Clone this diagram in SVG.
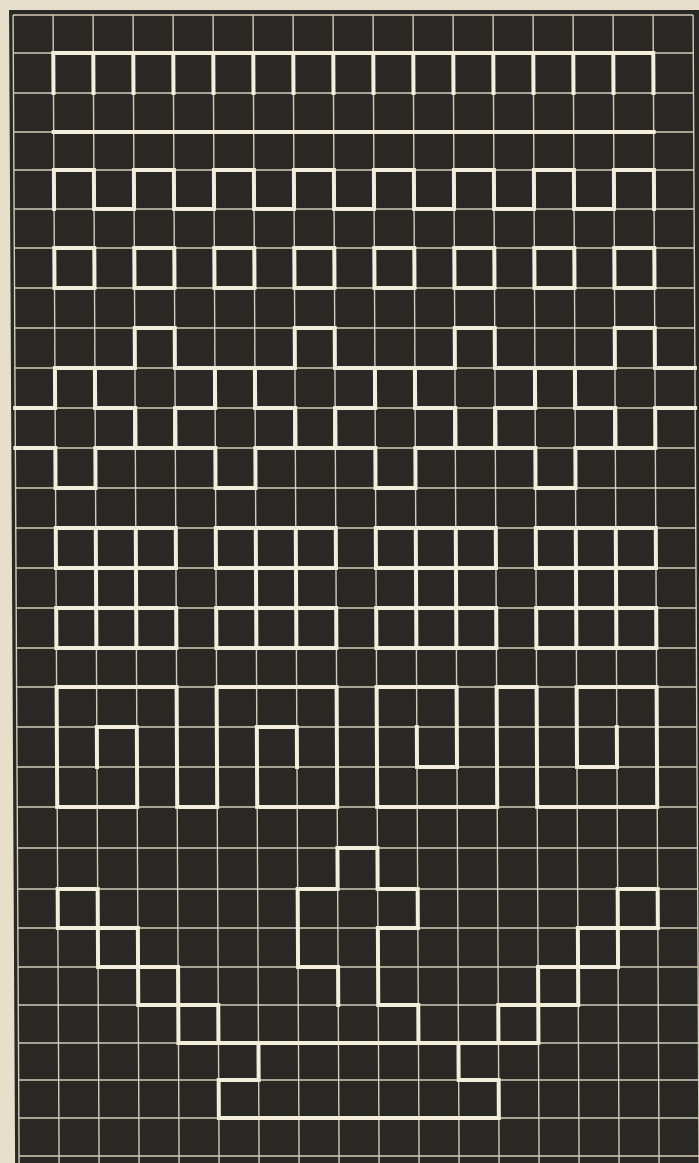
<svg xmlns="http://www.w3.org/2000/svg" width="699" height="1163" viewBox="0 0 699 1163">
<style>
.thin{fill:none;stroke:#d3ccb8;stroke-width:1.4}
.thick{fill:none;stroke:#f3eddb;stroke-width:4;stroke-linecap:square;stroke-linejoin:miter}
</style>
<rect width="699" height="1163" fill="#e8dfca"/>
<g transform="skewX(0.3)">
<rect x="9" y="10" width="700" height="1160" fill="#2a2825"/>
<g id="grid" class="thin">
<path d="M13 15V1163M53 15V1163M93 15V1163M133 15V1163M173 15V1163M213 15V1163M253 15V1163M293 15V1163M333 15V1163M373 15V1163M413 15V1163M453 15V1163M493 15V1163M533 15V1163M573 15V1163M613 15V1163M653 15V1163M693 15V1163"/>
<path d="M13 15H693M13 53H693M13 93H693M13 132H693M13 170H693M13 209H693M13 248H693M13 288H693M13 328H693M13 368H693M13 408H693M13 448H693M13 488H693M13 528H693M13 568H693M13 608H693M13 648H693M13 687H693M13 727H693M13 767H693M13 807H693M13 848H693M13 889H693M13 928H693M13 967H693M13 1005H693M13 1043H693M13 1080H693M13 1118H693M13 1156H693"/>
</g>
<g id="band-comb" class="thick">
<path d="M53 53H653M53 53V93M93 53V93M133 53V93M173 53V93M213 53V93M253 53V93M293 53V93M333 53V93M373 53V93M413 53V93M453 53V93M493 53V93M533 53V93M573 53V93M613 53V93M653 53V93"/>
</g>
<g id="band-line" class="thick"><path d="M53 132H653"/></g>
<g id="band-meander" class="thick">
<path d="M53 209V170H93V209H133V170H173V209H213V170H253V209H293V170H333V209H373V170H413V209H453V170H493V209H533V170H573V209H613V170H653V209"/>
</g>
<g id="band-boxes" class="thick">
<path d="M53 248h40v40h-40zM133 248h40v40h-40zM213 248h40v40h-40zM293 248h40v40h-40zM373 248h40v40h-40zM453 248h40v40h-40zM533 248h40v40h-40zM613 248h40v40h-40z"/>
</g>
<g id="band-crosses" class="thick">
<path d="M133 328H173V368H213V408H173V448H133V408H93V368H133Z"/>
<path d="M293 328H333V368H373V408H333V448H293V408H253V368H293Z"/>
<path d="M453 328H493V368H533V408H493V448H453V408H413V368H453Z"/>
<path d="M693 368H653V328H613V368H573V408H613V448H653V408H693"/>
<path d="M13 408H53V368H93V408H133V448H93V488H53V448H13"/>
<path d="M213 368H253V408H293V448H253V488H213V448H173V408H213Z"/>
<path d="M373 368H413V408H453V448H413V488H373V448H333V408H373Z"/>
<path d="M533 368H573V408H613V448H573V488H533V448H493V408H533Z"/>
</g>
<g id="band-triplets" class="thick">
<path d="M53 528H173V568H53ZM53 608H173V648H53ZM93 528V648M133 528V648"/>
<path d="M213 528H333V568H213ZM213 608H333V648H213ZM253 528V648M293 528V648"/>
<path d="M373 528H493V568H373ZM373 608H493V648H373ZM413 528V648M453 528V648"/>
<path d="M533 528H653V568H533ZM533 608H653V648H533ZM573 528V648M613 528V648"/>
</g>
<g id="band-spirals" class="thick">
<path d="M93 767V727H133V807H53V687H173V807H213V687H333V807H253V727H293V767"/>
<path d="M413 727V767H453V687H373V807H493V687H533V807H653V687H573V767H613V727"/>
</g>
<g id="band-stairs" class="thick">
<path d="M53 889h40v39h-40zM93 928h40v39h-40zM133 967h40v38h-40zM173 1005h40v38h-40z"/>
<path d="M613 889h40v39h-40zM573 928h40v39h-40zM533 967h40v38h-40zM493 1005h40v38h-40z"/>
<path d="M213 1043H493M253 1043V1080H213V1118H493V1080H453V1043"/>
<path d="M413 1043V1005H373V928H413V889H373V848H333V889H293V967H333V1005"/>
</g>
</g>
</svg>
